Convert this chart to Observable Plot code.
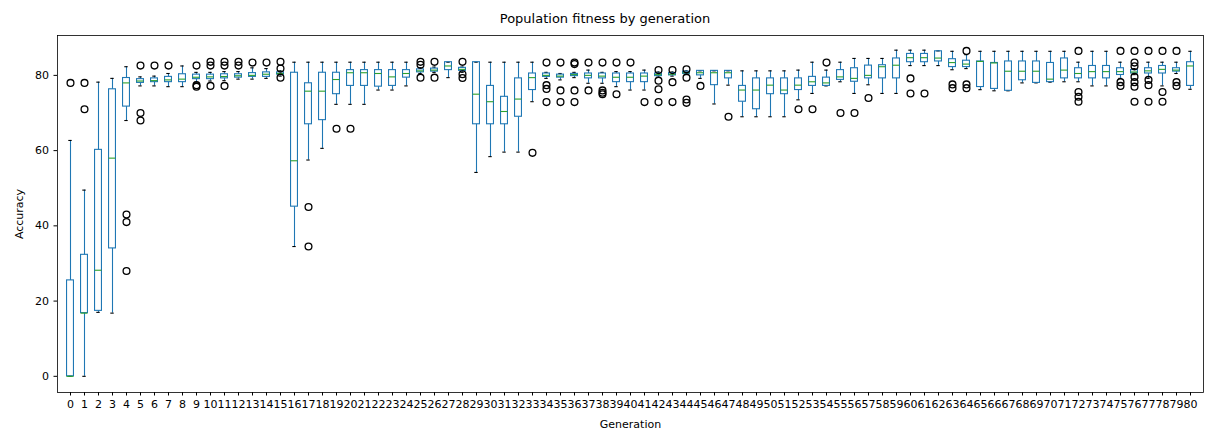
<!DOCTYPE html>
<html>
<head>
<meta charset="utf-8">
<script src="https://cdn.jsdelivr.net/npm/d3@7"></script>
<script src="https://cdn.jsdelivr.net/npm/@observablehq/plot@0.6"></script>
<style>
  html, body { margin: 0; padding: 0; background: #fff; }
  #title { width: 1210px; height: 28px; text-align: center; font: 13px "DejaVu Sans", sans-serif; line-height: 15px; padding-top: 11px; box-sizing: border-box; color: #000; }
  svg { display: block; }
</style>
</head>
<body>
<div id="title">Population fitness by generation</div>
<div id="chart"></div>
<script>
const generations = ["0","1","2","3","4","5","6","7","8","9","10","11","12","13","14","15","16","17","18","19","20",
  "21","22","23","24","25","26","27","28","29","30","31","32","33","34","35","36","37","38","39","40",
  "41","42","43","44","45","46","47","48","49","50","51","52","53","54","55","56","57","58","59","60",
  "61","62","63","64","65","66","67","68","69","70","71","72","73","74","75","76","77","78","79","80"];

const q1 = [0, 16.8, 17.4, 34.0, 71.7, 78.0, 78.2, 78.2, 78.2, 79.0, 79.0,
  79.2, 79.4, 79.6, 79.6, 80.2, 45.1, 67.0, 68.1, 75.0, 77.2,
  77.2, 77.0, 77.2, 79.4, 80.8, 81.0, 81.4, 81.2, 67.0, 67.0,
  67.0, 69.0, 76.1, 79.6, 79.4, 79.8, 79.2, 79.2, 78.2, 78.2,
  78.2, 79.8, 80.0, 80.4, 80.0, 77.4, 79.2, 73.0, 71.0, 75.0,
  75.0, 76.1, 77.2, 77.2, 78.8, 78.3, 79.2, 79.2, 79.2, 83.5,
  83.5, 83.7, 82.2, 82.2, 76.9, 76.4, 75.9, 78.7, 78.0, 78.2,
  79.2, 79.2, 79.2, 79.2, 80.1, 80.5, 80.5, 80.5, 81.0, 77.2];
const median = [0, 16.8, 28.2, 58.0, 78.0, 78.5, 78.6, 78.8, 79.0, 79.5, 79.6,
  79.7, 79.9, 80.0, 80.3, 80.5, 57.3, 75.8, 75.8, 78.9, 80.7,
  80.7, 80.5, 79.6, 80.5, 81.2, 81.4, 82.5, 81.6, 75.0, 73.0,
  70.4, 73.7, 79.4, 80.0, 79.8, 80.2, 80.0, 79.8, 79.5, 79.5,
  79.8, 80.2, 80.3, 80.7, 80.7, 80.7, 80.7, 76.1, 76.1, 77.4,
  76.1, 77.4, 78.3, 78.0, 79.6, 79.2, 80.0, 82.3, 82.7, 84.7,
  84.7, 84.6, 83.4, 83.0, 83.7, 83.3, 81.1, 81.1, 81.1, 79.0,
  81.4, 80.5, 81.0, 81.0, 81.0, 80.9, 81.2, 81.6, 81.4, 82.5];
const q3 = [25.5, 32.3, 60.2, 76.3, 79.3, 79.0, 79.2, 79.6, 80.3, 80.2, 80.2,
  80.3, 80.3, 80.6, 80.8, 80.8, 80.7, 77.9, 80.7, 80.7, 81.4,
  81.4, 81.4, 81.4, 81.4, 81.6, 81.8, 83.5, 82.0, 83.5, 77.2,
  74.3, 79.2, 80.5, 80.5, 80.2, 80.4, 80.5, 80.5, 80.5, 80.5,
  80.5, 80.5, 80.6, 81.0, 81.2, 81.2, 81.2, 77.2, 79.2, 79.2,
  79.2, 79.2, 79.6, 79.4, 81.4, 81.9, 82.6, 82.7, 84.5, 85.7,
  85.7, 86.4, 84.3, 83.9, 83.7, 83.3, 83.7, 83.7, 83.7, 83.3,
  84.5, 81.9, 82.5, 82.5, 81.9, 81.4, 81.9, 82.5, 81.9, 83.5];
const whiskerLow = [0, 0, 17.0, 16.8, 68.0, 77.2, 77.2, 77.0, 77.0, 78.2, 78.5,
  78.6, 79.0, 79.0, 79.2, 79.8, 34.5, 57.5, 60.6, 72.3, 72.3,
  72.3, 76.1, 76.1, 77.2, 80.5, 80.8, 79.4, 80.8, 54.2, 58.4,
  59.6, 59.6, 73.0, 79.2, 78.8, 79.4, 77.9, 77.9, 77.0, 76.1,
  76.1, 79.5, 79.8, 80.2, 79.2, 72.4, 77.4, 69.0, 69.0, 69.0,
  69.0, 73.5, 75.2, 77.2, 78.3, 75.2, 77.5, 75.2, 75.2, 82.6,
  82.6, 82.6, 81.5, 81.8, 76.2, 75.9, 75.9, 78.0, 78.0, 78.2,
  78.3, 78.3, 77.2, 77.2, 79.2, 80.2, 79.2, 77.2, 80.5, 76.3];
const whiskerHigh = [62.7, 49.5, 78.2, 79.2, 82.3, 79.6, 79.8, 80.5, 82.5, 80.8, 80.8,
  81.0, 81.0, 82.0, 81.8, 81.2, 83.5, 83.5, 83.5, 83.5, 83.5,
  83.5, 83.5, 83.5, 83.5, 82.0, 82.2, 83.5, 82.2, 83.5, 83.5,
  83.5, 83.5, 83.5, 80.8, 80.5, 80.8, 81.4, 80.8, 81.0, 81.0,
  81.4, 80.9, 80.9, 81.2, 81.2, 81.2, 81.2, 81.2, 81.2, 81.2,
  81.2, 81.4, 83.5, 81.4, 83.5, 84.5, 84.5, 84.5, 86.7, 86.7,
  86.7, 86.5, 86.4, 85.5, 86.4, 86.4, 86.4, 86.4, 86.4, 86.4,
  86.4, 83.5, 86.4, 86.4, 83.5, 81.8, 83.5, 83.5, 83.5, 86.4];

const outlierGen = ["0","1","1","4","4","4","5","5","5","6","7","9","9","9",
  "10","10","10","11","11","11","12","12","13","14","15","15","15",
  "17","17","19","20","25","25","25","26","26","28","28","28","33",
  "34","34","34","34","35","35","35","36","36","36","36","37","37",
  "38","38","38","38","39","39","40","41","42","42","42","42","43","43","43",
  "44","44","44","44","45","47","52","53","54","55","56","57","60","60","61",
  "63","63","64","64","64","72","72","72","72","75","75","75",
  "76","76","76","76","76","76","76","77","77","77","77","78","78","78","79","79","79"];
const outlierValue = [78.0, 78.0, 71.0, 43.0, 41.0, 28.0, 82.6, 70.0, 68.0, 82.6, 82.6, 82.6, 77.4, 77.0,
  83.6, 82.6, 77.2, 83.6, 82.6, 77.2, 83.6, 82.6, 83.4, 83.4, 83.6, 81.8, 79.4,
  45.0, 34.5, 65.8, 65.8, 83.6, 82.8, 79.4, 83.6, 79.4, 83.6, 80.3, 79.3, 59.4,
  83.4, 77.4, 76.4, 72.9, 83.4, 76.0, 72.9, 83.4, 83.0, 76.0, 72.9, 83.4, 76.0,
  83.4, 76.0, 75.4, 75.0, 83.4, 75.0, 83.4, 72.9, 81.4, 78.6, 76.3, 72.9, 81.4, 78.2, 72.9,
  81.6, 79.4, 73.6, 72.7, 77.2, 69.0, 71.0, 71.0, 83.4, 70.0, 70.0, 74.0, 79.2, 75.2, 75.2,
  77.6, 76.6, 86.5, 77.6, 76.6, 86.5, 75.6, 74.3, 73.0, 86.5, 78.2, 77.2,
  86.5, 83.4, 82.4, 79.6, 78.2, 77.0, 73.0, 86.5, 78.8, 77.4, 73.0, 86.5, 75.6, 73.0, 86.5, 78.2, 77.2];

const yTicks = [0, 20, 40, 60, 80];

const boxes = generations.map((g, i) => ({
  gen: g, q1: q1[i], med: median[i], q3: q3[i], lo: whiskerLow[i], hi: whiskerHigh[i]
}));
const outliers = outlierGen.map((g, i) => ({gen: g, value: outlierValue[i]}));

const blue = "#1f77b4", green = "#2ca02c";
const font = "DejaVu Sans, sans-serif";

const chart = Plot.plot({
  width: 1210,
  height: 405,
  marginLeft: 57,
  marginRight: 7,
  marginTop: 7,
  marginBottom: 41,
  style: {fontFamily: font, fontSize: "11px", color: "#000", background: "#fff"},
  x: {domain: generations, padding: 0, label: null},
  y: {domain: [-4.3, 90.6], label: null},
  marks: [
    Plot.axisY({ticks: yTicks, tickSize: 3.5, tickPadding: 5, fontSize: 11, label: "Accuracy",
      labelAnchor: "center", labelArrow: "none", labelOffset: 42}),
    Plot.axisX({tickSize: 3.5, tickPadding: 4, fontSize: 11, label: "Generation",
      labelAnchor: "center", labelArrow: "none", labelOffset: 35}),
    Plot.ruleX(boxes, {x: "gen", y1: "q3", y2: "hi", stroke: blue, strokeWidth: 1.1}),
    Plot.ruleX(boxes, {x: "gen", y1: "lo", y2: "q1", stroke: blue, strokeWidth: 1.1}),
    Plot.tickY(boxes, {x: "gen", y: "hi", stroke: "#000", strokeWidth: 1.1, insetLeft: 5.3, insetRight: 5.3}),
    Plot.tickY(boxes, {x: "gen", y: "lo", stroke: "#000", strokeWidth: 1.1, insetLeft: 5.3, insetRight: 5.3}),
    Plot.barY(boxes, {x: "gen", y1: "q1", y2: "q3", fill: "none", stroke: blue, strokeWidth: 1.1, insetLeft: 3.55, insetRight: 3.55}),
    Plot.tickY(boxes, {x: "gen", y: "med", stroke: green, strokeWidth: 1.1, insetLeft: 3.55, insetRight: 3.55}),
    Plot.dot(outliers, {x: "gen", y: "value", r: 3.4, stroke: "#000", fill: "none", strokeWidth: 1.3}),
    Plot.frame({stroke: "#000", strokeWidth: 0.8})
  ]
});
document.getElementById("chart").appendChild(chart);
</script>
</body>
</html>
